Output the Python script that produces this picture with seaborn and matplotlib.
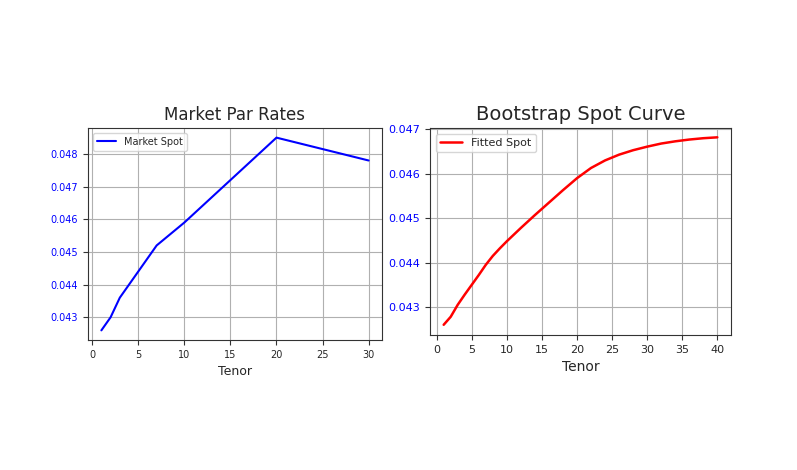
import matplotlib
matplotlib.use("Agg")
import matplotlib.pyplot as plt
import seaborn as sns
import pandas as pd

sns.set_style("white")
plt.rcParams['font.family'] = ['DejaVu Sans']

mkt_tenor = [1, 2, 3, 5, 7, 10, 20, 30]
mkt_rate = [0.0426, 0.0430, 0.0436, 0.0444, 0.0452, 0.0459, 0.0485, 0.0478]

fit_tenor = [1, 2, 3, 4, 5, 6, 7, 8, 9, 10, 12, 14, 16, 18, 20, 22, 24, 26, 28, 30, 32, 34, 36, 38, 40]
fit_rate = [0.04260, 0.04278, 0.04305, 0.04328, 0.04350, 0.04372, 0.04395, 0.04415, 0.04432, 0.04448,
            0.04478, 0.04507, 0.04535, 0.04563, 0.04590, 0.04613, 0.04630, 0.04643, 0.04653, 0.04661,
            0.04668, 0.04673, 0.04677, 0.04680, 0.04682]

fig = plt.figure(figsize=(7.97, 4.70), dpi=100)
ax1 = fig.add_axes([88/797, 1-340/470, 294/797, 212/470])
ax2 = fig.add_axes([430/797, 1-335/470, 301/797, 207/470])

sns.lineplot(x=mkt_tenor, y=mkt_rate, ax=ax1, color='blue', label='Market Spot', lw=1.5)
ax1.set_title('Market Par Rates', fontsize=12)
ax1.set_xlabel('Tenor', fontsize=9)
ax1.set_yticks([0.043, 0.044, 0.045, 0.046, 0.047, 0.048])
ax1.set_xticks([0, 5, 10, 15, 20, 25, 30])
ax1.tick_params(labelsize=7)
ax1.legend(loc='upper left', fontsize=7)

sns.lineplot(x=fit_tenor, y=fit_rate, ax=ax2, color='red', label='Fitted Spot', lw=1.8)
ax2.set_title('Bootstrap Spot Curve', fontsize=14)
ax2.set_xlabel('Tenor', fontsize=10)
ax2.set_xticks([0, 5, 10, 15, 20, 25, 30, 35, 40])
ax2.set_yticks([0.043, 0.044, 0.045, 0.046, 0.047])
ax2.set_ylim(0.04237, 0.04703)
ax2.tick_params(labelsize=8)
ax2.legend(loc='upper left', fontsize=8)

for ax in (ax1, ax2):
    ax.tick_params(length=3.5, width=0.8, color='#333333', bottom=True, left=True)
    ax.tick_params(axis='y', labelcolor='blue')
    ax.grid(True, color='#b0b0b0', lw=0.8)
    for s in ax.spines.values():
        s.set_color('#333333')
        s.set_linewidth(0.8)

fig.savefig('out.png', dpi=100)
